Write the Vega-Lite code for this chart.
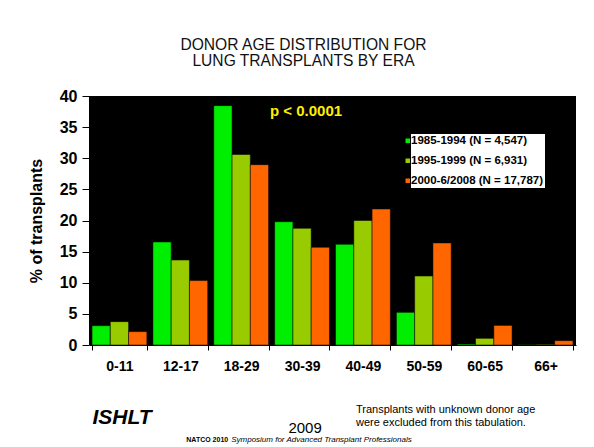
{
  "$schema": "https://vega.github.io/schema/vega-lite/v6.json",
  "width": 487,
  "height": 249,
  "autosize": {"type": "none"},
  "padding": {"left": 89, "top": 96, "right": 18, "bottom": 102},
  "background": "white",
  "title": {
    "text": ["DONOR AGE DISTRIBUTION FOR", "LUNG TRANSPLANTS BY ERA"],
    "font": "Liberation Sans",
    "fontSize": 15.6,
    "fontWeight": "normal",
    "color": "#111111",
    "lineHeight": 16,
    "offset": 18,
    "dx": -29,
    "anchor": "middle"
  },
  "config": {
    "view": {"fill": "black", "stroke": null},
    "font": "Liberation Sans",
    "axis": {"labelFont": "Liberation Sans", "titleFont": "Liberation Sans", "grid": false},
    "axisX": {
      "labelAngle": 0, "labelFontSize": 14, "labelFontWeight": "bold", "labelColor": "black",
      "tickBand": "extent", "tickColor": "black", "tickSize": 5, "labelPadding": 9, "domainColor": "black"
    },
    "axisY": {
      "tickCount": 8, "labelFontSize": 16, "labelFontWeight": "bold", "labelColor": "black",
      "tickColor": "black", "tickSize": 7, "labelPadding": 5, "domain": false,
      "titleFontSize": 16, "titleFontWeight": "bold", "titleColor": "black", "titlePadding": 15
    }
  },
  "data": {
    "values": [
      {"age": "0-11", "era": "1985-1994 (N = 4,547)", "pct": 3.1},
      {"age": "0-11", "era": "1995-1999 (N = 6,931)", "pct": 3.75},
      {"age": "0-11", "era": "2000-6/2008 (N = 17,787)", "pct": 2.15},
      {"age": "12-17", "era": "1985-1994 (N = 4,547)", "pct": 16.55},
      {"age": "12-17", "era": "1995-1999 (N = 6,931)", "pct": 13.65},
      {"age": "12-17", "era": "2000-6/2008 (N = 17,787)", "pct": 10.35},
      {"age": "18-29", "era": "1985-1994 (N = 4,547)", "pct": 38.45},
      {"age": "18-29", "era": "1995-1999 (N = 6,931)", "pct": 30.6},
      {"age": "18-29", "era": "2000-6/2008 (N = 17,787)", "pct": 28.97},
      {"age": "30-39", "era": "1985-1994 (N = 4,547)", "pct": 19.8},
      {"age": "30-39", "era": "1995-1999 (N = 6,931)", "pct": 18.74},
      {"age": "30-39", "era": "2000-6/2008 (N = 17,787)", "pct": 15.7},
      {"age": "40-49", "era": "1985-1994 (N = 4,547)", "pct": 16.17},
      {"age": "40-49", "era": "1995-1999 (N = 6,931)", "pct": 20.0},
      {"age": "40-49", "era": "2000-6/2008 (N = 17,787)", "pct": 21.85},
      {"age": "50-59", "era": "1985-1994 (N = 4,547)", "pct": 5.25},
      {"age": "50-59", "era": "1995-1999 (N = 6,931)", "pct": 11.08},
      {"age": "50-59", "era": "2000-6/2008 (N = 17,787)", "pct": 16.4},
      {"age": "60-65", "era": "1985-1994 (N = 4,547)", "pct": 0.15},
      {"age": "60-65", "era": "1995-1999 (N = 6,931)", "pct": 1.07},
      {"age": "60-65", "era": "2000-6/2008 (N = 17,787)", "pct": 3.15},
      {"age": "66+", "era": "1985-1994 (N = 4,547)", "pct": 0.05},
      {"age": "66+", "era": "1995-1999 (N = 6,931)", "pct": 0.1},
      {"age": "66+", "era": "2000-6/2008 (N = 17,787)", "pct": 0.7}
    ]
  },
  "layer": [
    {
      "mark": {"type": "bar", "stroke": "#000000", "strokeOpacity": 0.5, "strokeWidth": 1},
      "encoding": {
        "x": {
          "field": "age", "type": "nominal", "sort": null, "title": null,
          "scale": {"paddingInner": 0.1, "paddingOuter": 0.05}
        },
        "xOffset": {"field": "era", "type": "nominal", "sort": null, "scale": {"paddingInner": 0, "paddingOuter": 0}},
        "y": {
          "field": "pct", "type": "quantitative", "title": "% of transplants",
          "scale": {"domain": [0, 40], "nice": false}
        },
        "color": {
          "field": "era", "type": "nominal", "sort": null,
          "scale": {
            "domain": ["1985-1994 (N = 4,547)", "1995-1999 (N = 6,931)", "2000-6/2008 (N = 17,787)"],
            "range": ["#00ee00", "#99cc00", "#ff6600"]
          },
          "legend": {
            "orient": "none", "legendX": 322, "legendY": 38, "title": null, "padding": 1,
            "fillColor": "white",
            "labelFont": "Liberation Sans", "labelFontSize": 11.5, "labelFontWeight": "bold", "labelColor": "black",
            "symbolType": "square", "symbolSize": 20, "symbolStrokeWidth": 0, "symbolOpacity": 1,
            "rowPadding": 7, "labelOffset": -2.5, "symbolOffset": -10
          }
        }
      }
    },
    {
      "data": {"values": [{"t": "p < 0.0001"}]},
      "mark": {"type": "text", "font": "Liberation Sans", "fontSize": 15, "fontWeight": "bold", "color": "#ffee00", "baseline": "middle", "dx": 4},
      "encoding": {"x": {"datum": "30-39"}, "y": {"datum": 37.6}, "text": {"field": "t"}}
    },
    {
      "data": {"values": [{"t": "ISHLT"}]},
      "mark": {"type": "text", "font": "Liberation Sans", "fontSize": 21, "fontWeight": "bold", "fontStyle": "italic", "color": "black", "baseline": "middle", "align": "left", "dx": -27},
      "encoding": {"x": {"datum": "0-11"}, "y": {"datum": -11.8}, "text": {"field": "t"}}
    },
    {
      "data": {"values": [{"t": "2009"}]},
      "mark": {"type": "text", "font": "Liberation Sans", "fontSize": 15, "color": "black", "baseline": "middle", "dx": 3},
      "encoding": {"x": {"datum": "30-39"}, "y": {"datum": -13.4}, "text": {"field": "t"}}
    },
    {
      "data": {"values": [{"t": "Transplants with unknown donor age"}]},
      "mark": {"type": "text", "font": "Liberation Sans", "fontSize": 11, "color": "black", "baseline": "middle", "align": "left", "dx": -7},
      "encoding": {"x": {"datum": "40-49"}, "y": {"datum": -10.5}, "text": {"field": "t"}}
    },
    {
      "data": {"values": [{"t": "were excluded from this tabulation."}]},
      "mark": {"type": "text", "font": "Liberation Sans", "fontSize": 11, "color": "black", "baseline": "middle", "align": "left", "dx": -7},
      "encoding": {"x": {"datum": "40-49"}, "y": {"datum": -12.6}, "text": {"field": "t"}}
    },
    {
      "data": {"values": [{"t": "NATCO 2010"}]},
      "mark": {"type": "text", "font": "Liberation Sans", "fontSize": 7, "fontWeight": "bold", "color": "black", "baseline": "middle", "align": "left", "dx": 6},
      "encoding": {"x": {"datum": "12-17"}, "y": {"datum": -15.3}, "text": {"field": "t"}}
    },
    {
      "data": {"values": [{"t": "Symposium for Advanced Transplant Professionals"}]},
      "mark": {"type": "text", "font": "Liberation Sans", "fontSize": 8, "fontStyle": "italic", "color": "black", "baseline": "middle", "align": "left", "dx": -10},
      "encoding": {"x": {"datum": "18-29"}, "y": {"datum": -15.3}, "text": {"field": "t"}}
    }
  ]
}
